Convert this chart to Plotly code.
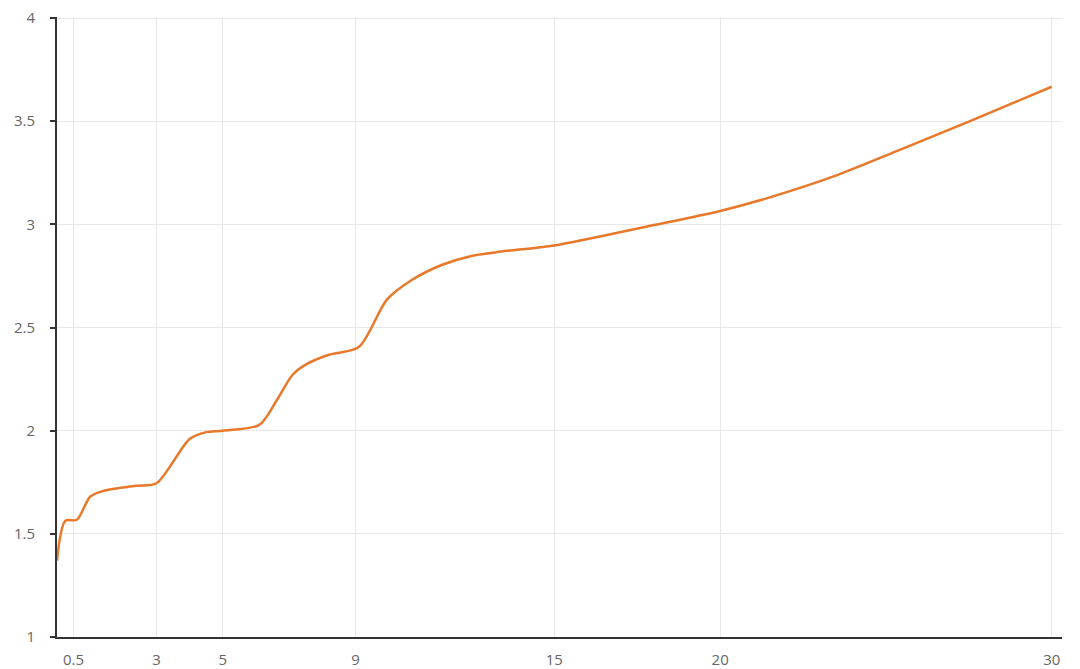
import plotly.graph_objects as go

x_values = [0, 0.25, 0.6, 1.0, 1.4, 2.4, 3.0, 4.0, 4.5, 5.0, 6.1, 6.6, 7.1, 7.5, 8.2, 9.1,
            9.95, 10.7, 11.6, 12.5, 13.4, 15, 17.8, 20, 21.4, 23.4, 25.4, 27.5, 30]
y_values = [1.37, 1.563, 1.568, 1.68, 1.708, 1.733, 1.745, 1.96, 1.993, 2.0, 2.028, 2.14, 2.27,
            2.32, 2.368, 2.405, 2.635, 2.73, 2.803, 2.847, 2.868, 2.898, 2.99, 3.065, 3.126,
            3.231, 3.36, 3.498, 3.667]
x_ticks = [0.5, 3, 5, 9, 15, 20, 30]
x_tick_labels = ["0.5", "3", "5", "9", "15", "20", "30"]
y_ticks = [1, 1.5, 2, 2.5, 3, 3.5, 4]
y_tick_labels = ["1", "1.5", "2", "2.5", "3", "3.5", "4"]

fig = go.Figure()
fig.add_trace(go.Scatter(
    x=x_values, y=y_values, mode="lines",
    line=dict(color="#E8782A", width=2.5, shape="spline", smoothing=0.8),
    hoverinfo="x+y", showlegend=False,
))

# the page body has an 8px margin, so the figure is sized/margined to compensate
fig.update_layout(
    width=1072, height=661,
    margin=dict(l=49, r=18, t=9, b=32),
    paper_bgcolor="white", plot_bgcolor="white",
    font=dict(family="Open Sans, DejaVu Sans, sans-serif", size=15, color="#666666"),
)
fig.update_xaxes(
    range=[0, 30.31], tickmode="array", tickvals=x_ticks, ticktext=x_tick_labels,
    showgrid=True, gridcolor="#e8e8e8", gridwidth=1,
    showline=True, linecolor="#333333", linewidth=2,
    ticks="", zeroline=False, ticklabelstandoff=8, automargin=False,
    ticklabeloverflow="allow",
)
fig.update_yaxes(
    range=[1, 4.005], tickmode="array", tickvals=y_ticks, ticktext=y_tick_labels,
    showgrid=True, gridcolor="#e8e8e8", gridwidth=1,
    showline=True, linecolor="#333333", linewidth=2,
    ticks="outside", ticklen=5, tickcolor="#333333", tickwidth=1.5,
    zeroline=False, ticklabelstandoff=12, automargin=False,
    ticklabeloverflow="allow",
)

fig.write_html("out.html")
